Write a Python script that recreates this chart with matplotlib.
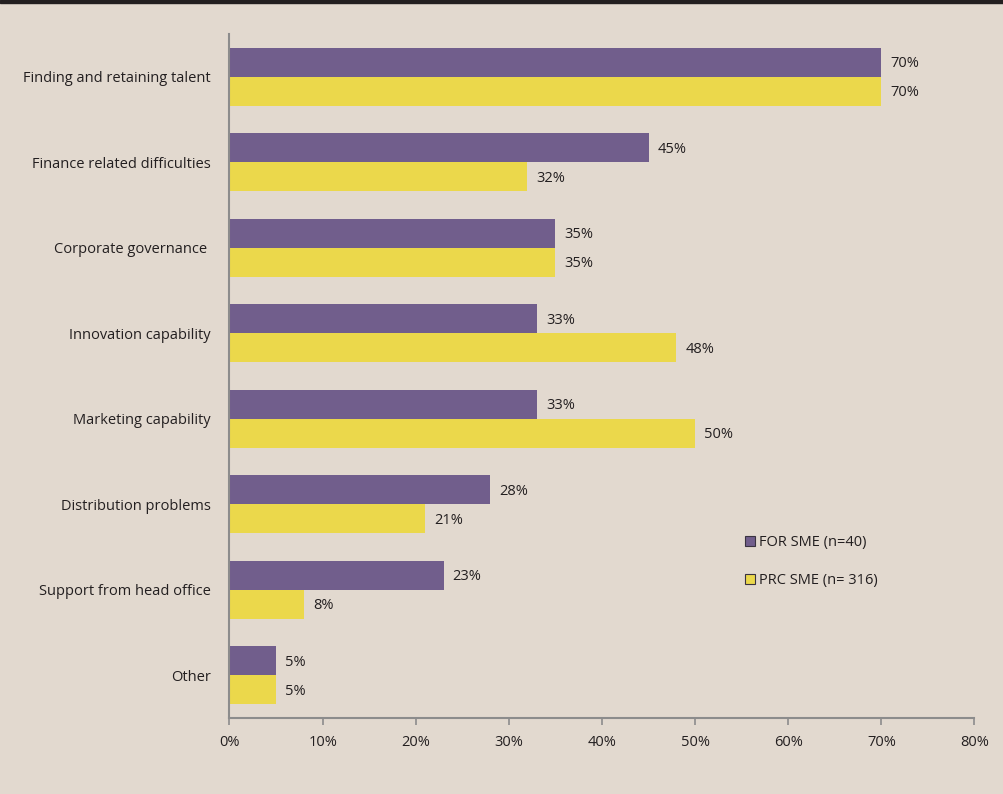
import matplotlib
matplotlib.use("Agg")
import matplotlib.pyplot as plt
from matplotlib.lines import Line2D
from matplotlib.ticker import FuncFormatter

categories = ["Finding and retaining talent", "Finance related difficulties",
              "Corporate governance ", "Innovation capability", "Marketing capability",
              "Distribution problems", "Support from head office", "Other"]
for_sme = [70, 45, 35, 33, 33, 28, 23, 5]
prc_sme = [70, 32, 35, 48, 50, 21, 8, 5]
series_names = ["FOR SME (n=40)", "PRC SME (n= 316)"]
xticks = [0, 10, 20, 30, 40, 50, 60, 70, 80]

BG = "#e2d9cf"
PURPLE = "#715e8c"
YELLOW = "#ebd84b"
TEXT = "#231f20"
AXIS = "#8c8c8c"
FS = 10.5

plt.rcParams['font.family'] = ['Open Sans', 'DejaVu Sans']

fig = plt.figure(figsize=(10.04, 7.94), dpi=100, facecolor=BG)
ax = fig.add_axes([229.5/1004, 1-718/794, (974.5-229.5)/1004, (718-34)/794])
ax.set_facecolor(BG)

h = 0.34
y = list(range(len(categories)))
ax.barh([i - h/2 for i in y], for_sme, height=h, color=PURPLE, label=series_names[0])
ax.barh([i + h/2 for i in y], prc_sme, height=h, color=YELLOW, label=series_names[1])

for i, (a, b) in enumerate(zip(for_sme, prc_sme)):
    ax.annotate(f"{a}%", (a, i - h/2), xytext=(6.5, -1), textcoords="offset points",
                va="center", ha="left", fontsize=FS, color=TEXT)
    ax.annotate(f"{b}%", (b, i + h/2), xytext=(6.5, -1), textcoords="offset points",
                va="center", ha="left", fontsize=FS, color=TEXT)

ax.set_ylim(len(categories) - 0.5, -0.5)
ax.set_xlim(0, 80)
ax.set_yticks(y)
ax.set_yticklabels(categories, fontsize=FS, color=TEXT)
ax.tick_params(axis='y', length=0, pad=13.5)
ax.set_xticks(xticks)
ax.xaxis.set_major_formatter(FuncFormatter(lambda v, p: f"{int(v)}%"))
ax.tick_params(axis='x', length=5, width=1.2, color=AXIS, labelsize=FS, labelcolor=TEXT, pad=7.5)
for s in ["top", "right"]:
    ax.spines[s].set_visible(False)
for s in ["left", "bottom"]:
    ax.spines[s].set_color(AXIS)
    ax.spines[s].set_linewidth(1.5)

handles = [Line2D([], [], marker='s', linestyle='none', markersize=6.5,
                  markerfacecolor=c, markeredgecolor="#3a3340", markeredgewidth=0.8)
           for c in (PURPLE, YELLOW)]
leg = ax.legend(handles, series_names, loc="upper left", bbox_to_anchor=(738/1004, 1-528/794),
                bbox_transform=fig.transFigure, frameon=False, fontsize=FS,
                handlelength=0.6, handletextpad=0.35, labelspacing=1.55, borderpad=0)
for t in leg.get_texts():
    t.set_color(TEXT)

fig.add_artist(plt.Rectangle((0, 1-3/794), 1, 3/794, transform=fig.transFigure,
                             color="#231f20", zorder=10))

fig.savefig("out.png", dpi=100, facecolor=BG)
